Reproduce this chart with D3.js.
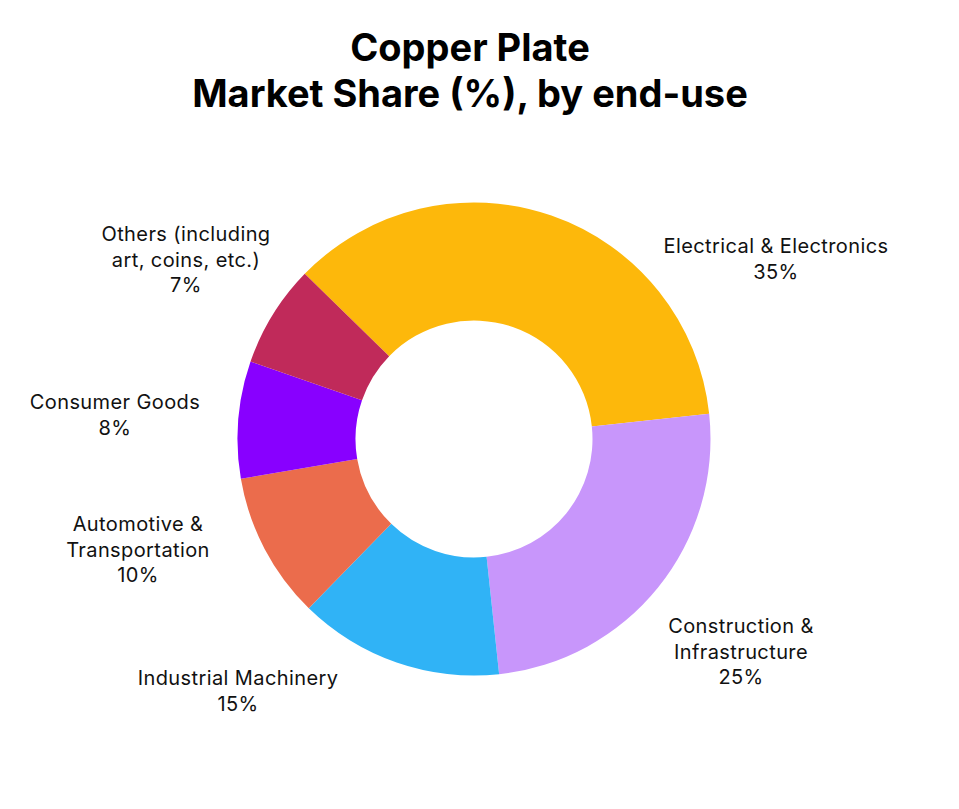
<!DOCTYPE html>
<html>
<head>
<meta charset="utf-8">
<script src="https://cdn.jsdelivr.net/npm/d3@7"></script>
<style>
  html, body { margin: 0; padding: 0; background: #ffffff; }
  svg { display: block; }
</style>
</head>
<body>
<svg id="chart" width="959" height="809"></svg>
<script>
// ---- data ----
const categories = [
  "Electrical & Electronics",
  "Construction & Infrastructure",
  "Industrial Machinery",
  "Automotive & Transportation",
  "Consumer Goods",
  "Others (including art, coins, etc.)"
];
// slice sizes as drawn in the picture
const shares = [36, 25, 14, 10, 8, 7];
// percentage texts as printed on the labels
const shareLabels = ["35%", "25%", "15%", "10%", "8%", "7%"];
// label line breaks
const labelLines = [
  ["Electrical & Electronics"],
  ["Construction &", "Infrastructure"],
  ["Industrial Machinery"],
  ["Automotive &", "Transportation"],
  ["Consumer Goods"],
  ["Others (including", "art, coins, etc.)"]
];
const colors = ["#FDB80B", "#C896FB", "#30B3F6", "#EB6C4C", "#8800FF", "#C02A5A"];

// ---- layout ----
const width = 959, height = 809;
const cx = 474, cy = 439;
const outerR = 236.5, innerR = 118.5;
const startDeg = -45.7;
// label anchor (centre x, first baseline y) for each slice
const labelAnchors = [
  [776, 253], [741, 633], [238, 685], [138, 531], [115, 409], [186, 241]
];
const lineH = 25.5;

const svg = d3.select("#chart");

// title
const title = svg.append("text")
  .attr("x", 470).attr("text-anchor", "middle")
  .style("font-family", "Inter, 'Noto Sans', sans-serif")
  .style("font-weight", 700)
  .style("font-size", "38px")
  .attr("fill", "#000");
title.append("tspan").attr("x", 470).attr("y", 61).text("Copper Plate");
title.append("tspan").attr("x", 470).attr("y", 107).text("Market Share (%), by end-use");

const pie = d3.pie()
  .sort(null)
  .value(d => d)
  .startAngle(startDeg * Math.PI / 180)
  .endAngle((startDeg + 360) * Math.PI / 180);

const arc = d3.arc().innerRadius(innerR).outerRadius(outerR);

const g = svg.append("g").attr("transform", `translate(${cx},${cy})`);
g.selectAll("path.slice")
  .data(pie(shares))
  .join("path")
  .attr("class", "slice")
  .attr("d", arc)
  .attr("fill", (d, i) => colors[i]);

// labels
const lbl = svg.append("g")
  .style("font-family", "Inter, 'Noto Sans', sans-serif")
  .style("font-size", "20px")
  .style("letter-spacing", "0.4px")
  .attr("fill", "#111");

categories.forEach((c, i) => {
  const [lx, ly] = labelAnchors[i];
  const t = lbl.append("text").attr("text-anchor", "middle");
  const lines = labelLines[i].concat([shareLabels[i]]);
  lines.forEach((s, k) => {
    t.append("tspan").attr("x", lx).attr("y", ly + k * lineH).text(s);
  });
});
</script>
</body>
</html>
